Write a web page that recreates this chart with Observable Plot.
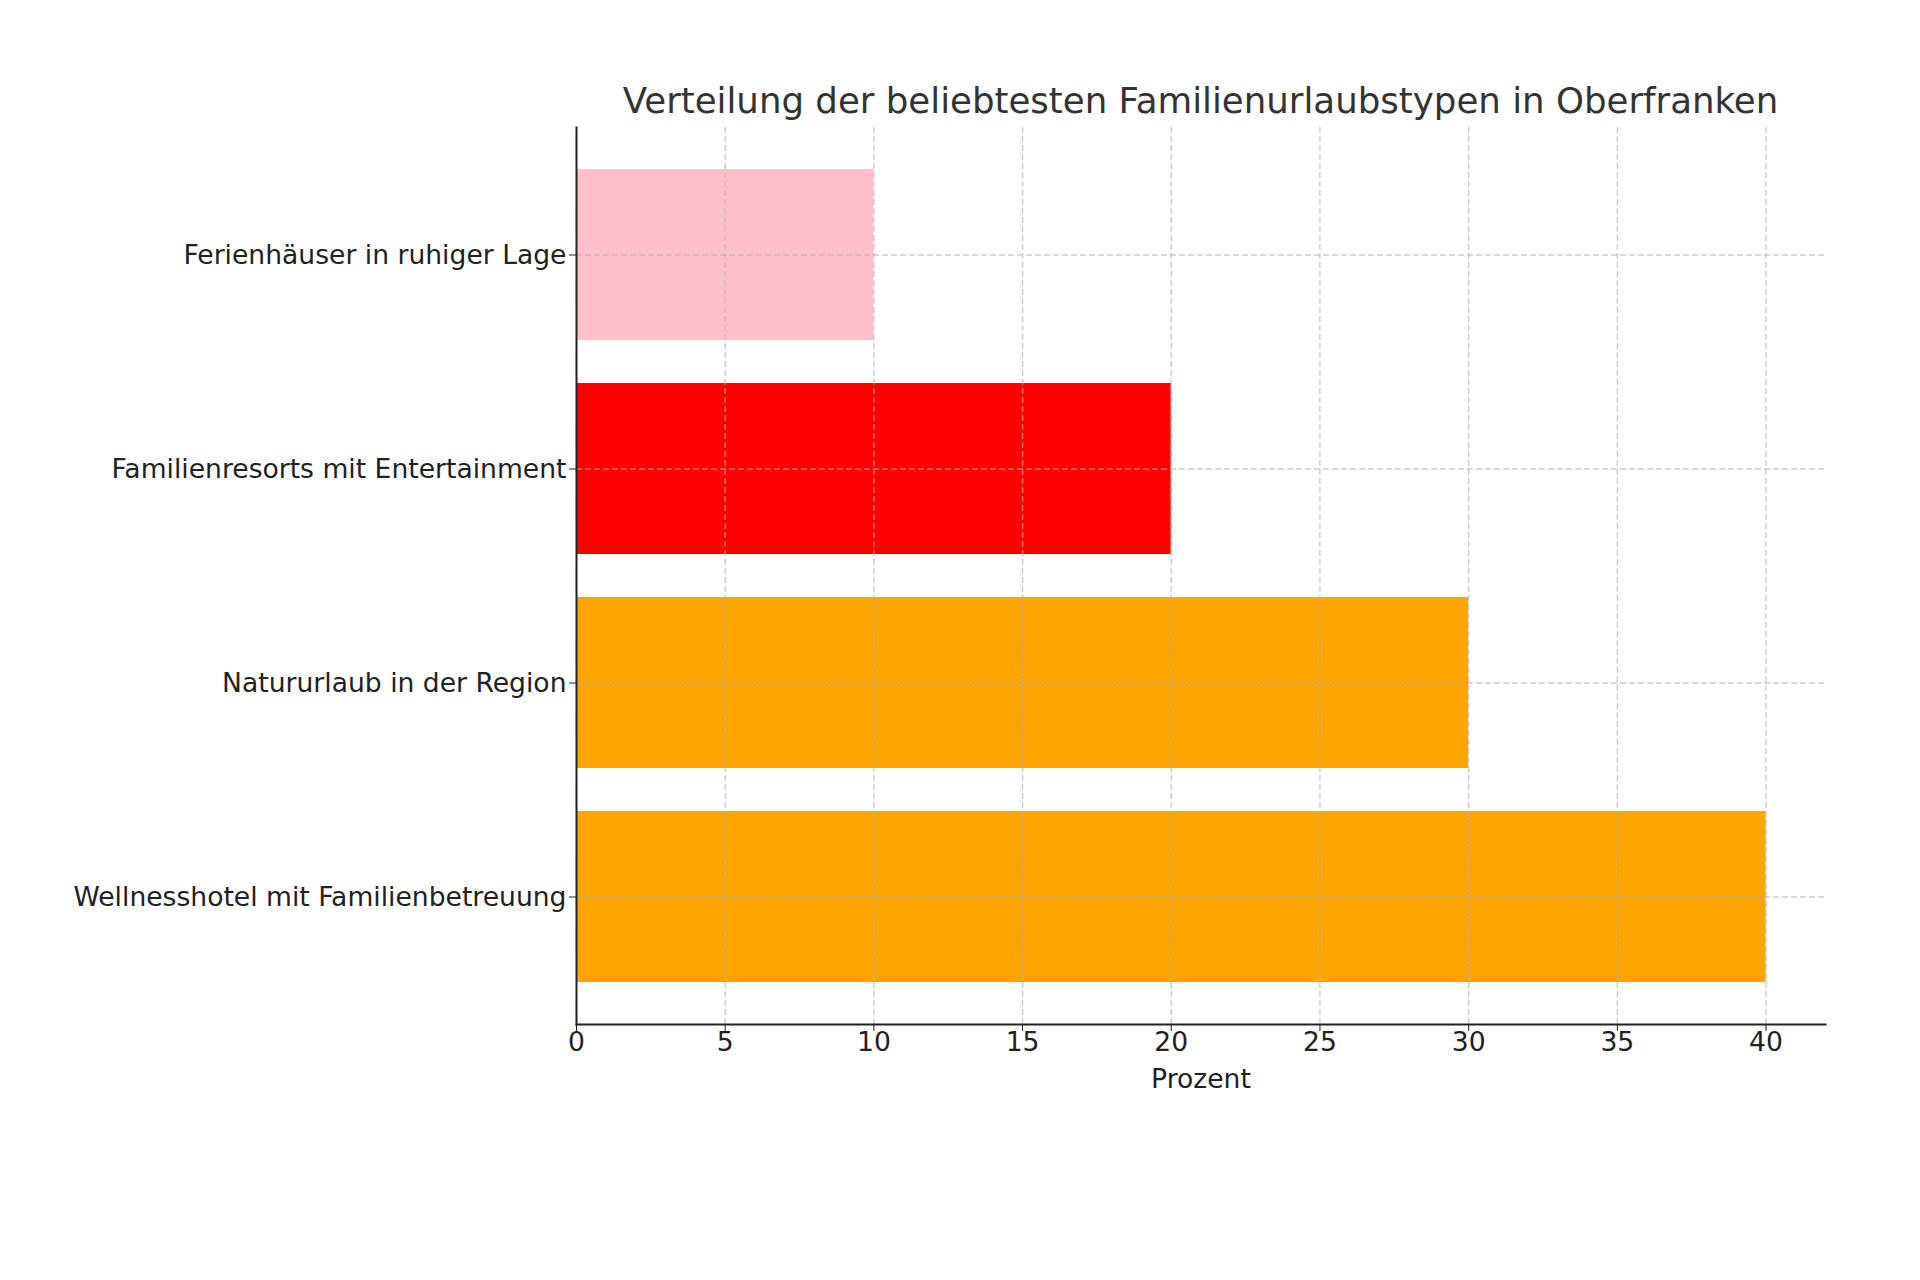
<!DOCTYPE html>
<html>
<head>
<meta charset="utf-8">
<script src="https://cdn.jsdelivr.net/npm/d3@7"></script>
<script src="https://cdn.jsdelivr.net/npm/@observablehq/plot@0.6"></script>
<style>
  html, body { margin: 0; padding: 0; background: #fff; }
  #wrap { position: relative; width: 1920px; height: 1280px; font-family: "DejaVu Sans", sans-serif; }
  #title { position: absolute; left: 576px; width: 1249px; top: 83px; text-align: center;
           font-size: 35.6px; color: #333; white-space: nowrap; line-height: 1; }
  #chart { position: absolute; left: 0; top: 0; }
</style>
</head>
<body>
<div id="wrap">
  <div id="chart"></div>
  <div id="title">Verteilung der beliebtesten Familienurlaubstypen in Oberfranken</div>
</div>
<script>
const categories = [
  "Ferienhäuser in ruhiger Lage",
  "Familienresorts mit Entertainment",
  "Natururlaub in der Region",
  "Wellnesshotel mit Familienbetreuung"
];
const values = [10, 20, 30, 40];
const colors = ["#FFC0CB", "#FF0000", "#FFA500", "#FFA500"];
const xTicks = [0, 5, 10, 15, 20, 25, 30, 35, 40];
const xLabel = "Prozent";

const data = categories.map((c, i) => ({category: c, value: values[i], color: colors[i]}));

const chart = Plot.plot({
  width: 1920,
  height: 1280,
  marginLeft: 576,
  marginRight: 95,
  marginTop: 127,
  marginBottom: 256,
  style: {fontFamily: "DejaVu Sans, sans-serif", fontSize: "26.6px", color: "#222", background: "#fff"},
  x: {domain: [0, 42]},
  y: {domain: categories, paddingInner: 0.2, paddingOuter: 0.19},
  marks: [
    Plot.barX(data, {y: "category", x: "value", fill: "color"}),
    Plot.gridX({ticks: xTicks, stroke: "#b0b0b0", strokeOpacity: 0.65, strokeWidth: 1.4, strokeDasharray: "6,3"}),
    Plot.gridY({stroke: "#b0b0b0", strokeOpacity: 0.65, strokeWidth: 1.4, strokeDasharray: "6,3"}),
    Plot.axisX({ticks: xTicks, tickSize: 7, tickPadding: 1, fontSize: 26.6, stroke: "#222",
                label: xLabel, labelAnchor: "center", labelArrow: "none", labelOffset: 63}),
    Plot.axisY({tickSize: 7, tickPadding: 3, fontSize: 26.6, stroke: "#222", label: null}),
    Plot.frame({anchor: "left", stroke: "#222", strokeWidth: 2}),
    Plot.frame({anchor: "bottom", stroke: "#222", strokeWidth: 2})
  ]
});
document.getElementById("chart").appendChild(chart);
</script>
</body>
</html>
